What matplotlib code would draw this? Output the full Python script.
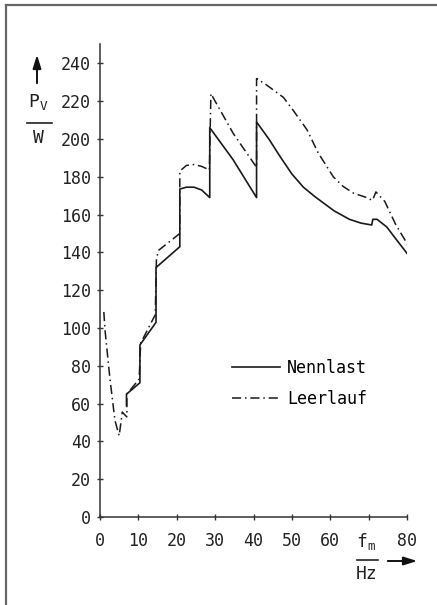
import numpy as np
import matplotlib.pyplot as plt
from matplotlib.lines import Line2D

# Datos (f en Hz, P en W)
f_nenn = [6.9, 6.9, 10.4, 10.4, 14.6, 14.6, 20.8, 20.8, 22.5, 24.5, 26.5, 28.6,
          28.6, 34.7, 40.8, 40.8, 44, 47, 50, 53, 56, 58, 61, 65, 68, 70.8,
          71.1, 72.2, 74.7, 77.3, 80]
p_nenn = [59, 65, 71, 91, 103, 132, 143, 173.5, 174.5, 174.5, 173, 169,
          206, 189, 169, 209, 200, 190.5, 181.5, 174.5, 169.5, 166.5, 162, 157.5, 155.5, 154.5,
          157.5, 157.5, 153.5, 146.6, 139.5]

f_leer = [1.0, 1.3, 2.6, 3.9, 5.0, 5.8, 6.5, 7.0, 7.0, 10.2, 10.6, 14.4, 14.7, 15.2,
          20.8, 20.8, 22.5, 24.5, 26.5, 28.5, 28.9, 34.7, 40.8, 40.8, 43.4, 47.8,
          50.4, 53.9, 56.9, 60.8, 63.3, 66, 69.5, 71, 71.9, 74.2, 77, 80.5]
p_leer = [108.5, 99, 73, 51, 43, 55.5, 54, 53, 65, 73, 92, 107, 136, 141,
          150, 183, 186, 186.5, 185.5, 183.6, 224, 203, 185, 232, 228.6, 222,
          215, 205, 192.5, 180, 175, 171.4, 169, 167.5, 172, 167, 155, 143]

x_ticks = [0, 10, 20, 30, 40, 50, 60, 70, 80]
x_ticklabels = ['0', '10', '20', '30', '40', '50', '60', '', '80']
y_ticks = list(range(0, 241, 20))

W, H = 437, 605
def px(x, y):
    return (x / W, 1 - y / H)

plt.rcParams['font.family'] = ['DejaVu Sans Mono']
fig = plt.figure(figsize=(W / 100, H / 100), dpi=100)
ax = fig.add_axes([100 / W, 1 - 517 / H, 307 / W, (517 - 44.5) / H])

ax.plot(f_nenn, p_nenn, color='#1a1a1a', lw=1.2, label='Nennlast')
ax.plot(f_leer, p_leer, color='#1a1a1a', lw=1.1, linestyle=(0, (6, 2.5, 1, 2.5)),
        label='Leerlauf')

ax.set_xlim(0, 80)
ax.set_ylim(0, 250)
ax.set_xticks(x_ticks)
ax.set_xticklabels(x_ticklabels)
ax.set_yticks(y_ticks)
for s in ['top', 'right']:
    ax.spines[s].set_visible(False)
for s in ['left', 'bottom']:
    ax.spines[s].set_linewidth(1.1)
    ax.spines[s].set_color('#333333')
ax.tick_params(axis='both', direction='inout', length=5, width=1, color='#333333',
               labelsize=12, labelcolor='#222222')
ax.tick_params(axis='x', pad=8)
ax.tick_params(axis='y', pad=4)

# Leyenda
ax.legend(loc='center left', bbox_to_anchor=(0.43, 0.2825), frameon=False,
          fontsize=12, handlelength=2.9, handletextpad=0.4, labelspacing=0.75,
          borderaxespad=0, borderpad=0)

# Etiqueta eje y
fig.text(*px(38, 102), r'P$_\mathregular{V}$', fontsize=13, ha='center', va='center',
         color='#222222')
fig.add_artist(Line2D([27 / W, 52 / W], [1 - 123 / H, 1 - 123 / H], color='#222222', lw=1.2))
fig.text(*px(38, 138), 'W', fontsize=13, ha='center', va='center', color='#222222')
ax.annotate('', xy=px(37, 52), xycoords='figure fraction', xytext=px(37, 86),
            textcoords='figure fraction',
            arrowprops=dict(arrowstyle='-|>,head_length=0.8,head_width=0.25',
                            color='#111111', lw=1.4))

# Etiqueta eje x
fig.text(*px(366, 542), r'f$_\mathregular{m}$', fontsize=13, ha='center', va='center',
         color='#222222')
fig.add_artist(Line2D([357 / W, 378 / W], [1 - 560 / H, 1 - 560 / H], color='#222222', lw=1.2))
fig.text(*px(367, 574), 'Hz', fontsize=13, ha='center', va='center', color='#222222')
ax.annotate('', xy=px(420, 561), xycoords='figure fraction', xytext=px(385, 561),
            textcoords='figure fraction',
            arrowprops=dict(arrowstyle='-|>,head_length=0.8,head_width=0.25',
                            color='#111111', lw=1.4))

# Marco de la pagina
fig.add_artist(Line2D([6 / W, 6 / W], [0, 1 - 5 / H], color='#666666', lw=1.6))
fig.add_artist(Line2D([6 / W, 1], [1 - 5 / H, 1 - 5 / H], color='#666666', lw=1.6))

fig.savefig('out.png', dpi=100)
